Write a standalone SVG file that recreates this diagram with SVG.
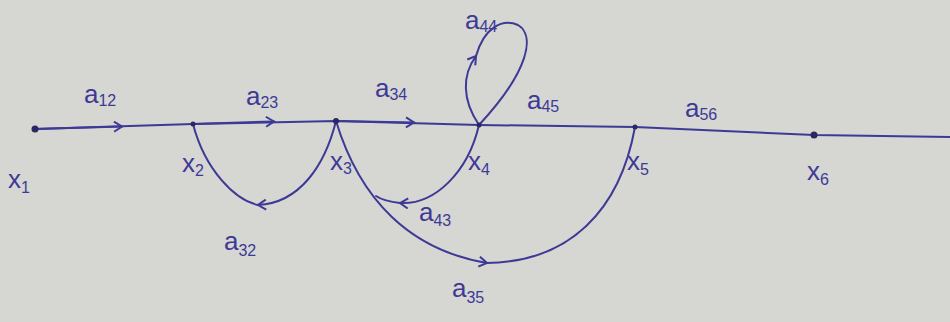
<svg xmlns="http://www.w3.org/2000/svg" width="950" height="322" viewBox="0 0 950 322">
<style>
.e{fill:none;stroke:#3d3a96;stroke-width:2;stroke-linecap:round}
.t{font-family:"Liberation Sans",Arial,sans-serif;font-size:26px;fill:#3d3a96}
.s{font-size:16px}
.n{fill:#2a2860}
</style>
<defs>
<marker id="ah" viewBox="0 0 12 12" refX="9" refY="6" markerWidth="12" markerHeight="12" markerUnits="userSpaceOnUse" orient="auto">
<path d="M1,1 L9,6 L1,11" fill="none" stroke="#3d3a96" stroke-width="2"/>
</marker>
</defs>
<rect width="950" height="322" fill="#d6d6d3"/>
<g id="connectors">
<path class="e" d="M35,129 L193,124 L336,121 L479,125 L635,127 L814,135 L950,137"/>
<path class="e" d="M35,129 L122,126.5" marker-end="url(#ah)"/>
<path class="e" d="M193,124 L274,121.5" marker-end="url(#ah)"/>
<path class="e" d="M336,121 L414,122.5" marker-end="url(#ah)"/>
<path class="e" d="M336,121 C325,165 300,203 258,205" marker-end="url(#ah)"/>
<path class="e" d="M258,205 C235,200 205,170 193,124"/>
<path class="e" d="M479,125 C468,172 435,205 400,203" marker-end="url(#ah)"/>
<path class="e" d="M400,203 C390,202 382,200 376,196"/>
<path class="e" d="M336,121 C360,200 410,250 487,263" marker-end="url(#ah)"/>
<path class="e" d="M487,263 C570,262 620,210 635,127"/>
<path class="e" d="M479,125 C462,100 462,75 476,56" marker-end="url(#ah)"/>
<path class="e" d="M476,56 C484,28 502,18 518,25 C535,35 530,70 479,125"/>
</g>
<g id="x1"><circle class="n" cx="35" cy="129" r="3.5"/><text class="t" x="8" y="188">x<tspan class="s" dy="5">1</tspan></text></g>
<g id="x2"><circle class="n" cx="193" cy="124" r="2.5"/><text class="t" x="182" y="172">x<tspan class="s" dy="4">2</tspan></text></g>
<g id="x3"><circle class="n" cx="336" cy="121" r="3"/><text class="t" x="330" y="170">x<tspan class="s" dy="4">3</tspan></text></g>
<g id="x4"><circle class="n" cx="479" cy="125" r="2.5"/><text class="t" x="468" y="170">x<tspan class="s" dy="5">4</tspan></text></g>
<g id="x5"><circle class="n" cx="635" cy="127" r="2.5"/><text class="t" x="627" y="170">x<tspan class="s" dy="5">5</tspan></text></g>
<g id="x6"><circle class="n" cx="814" cy="135" r="3.5"/><text class="t" x="807" y="180">x<tspan class="s" dy="5">6</tspan></text></g>
<g id="labels">
<text class="t" x="84" y="103">a<tspan class="s" dy="3">12</tspan></text>
<text class="t" x="246" y="105">a<tspan class="s" dy="3">23</tspan></text>
<text class="t" x="375" y="97">a<tspan class="s" dy="3">34</tspan></text>
<text class="t" x="465" y="29">a<tspan class="s" dy="3">44</tspan></text>
<text class="t" x="527" y="109">a<tspan class="s" dy="3">45</tspan></text>
<text class="t" x="685" y="117">a<tspan class="s" dy="3">56</tspan></text>
<text class="t" x="419" y="221">a<tspan class="s" dy="5">43</tspan></text>
<text class="t" x="224" y="250">a<tspan class="s" dy="6">32</tspan></text>
<text class="t" x="452" y="297">a<tspan class="s" dy="6">35</tspan></text>
</g>
</svg>
